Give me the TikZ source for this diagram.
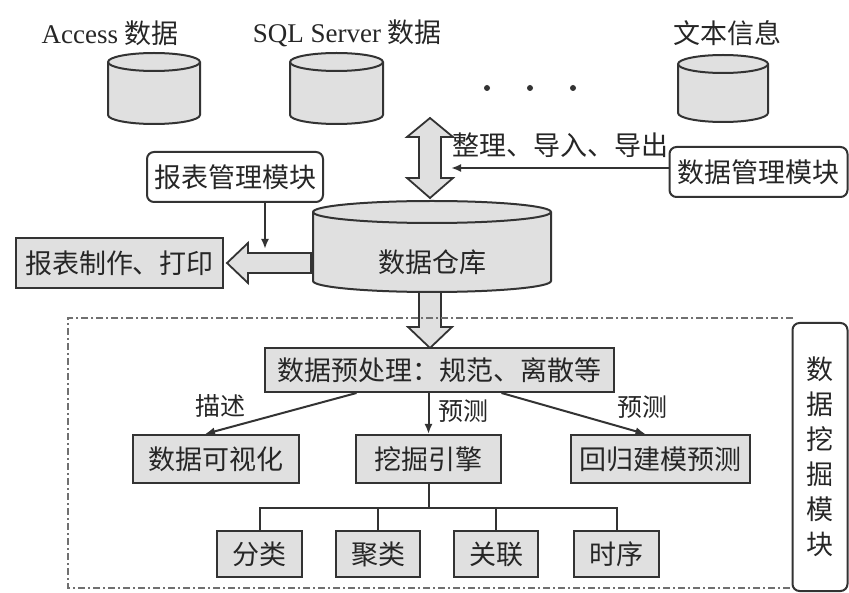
\documentclass[tikz,border=0pt]{standalone}
\usepackage{fontspec}
\setmainfont{Liberation Serif}
\newfontfamily\cjk{Noto Sans CJK SC}
\usetikzlibrary{arrows.meta}
\definecolor{boxfill}{HTML}{E0E0E0}
\definecolor{linec}{HTML}{333333}
\definecolor{txt}{HTML}{262626}
\definecolor{dashc}{HTML}{707070}
\newcommand\mycyl[5]{%
  \pgfmathsetmacro\cxr{(#2-#1)/2}%
  \filldraw[cyl] (#1,#3+#5) -- (#1,#4-#5) arc[start angle=180,end angle=0,x radius=\cxr,y radius=#5] -- (#2,#3+#5) arc[start angle=0,end angle=-180,x radius=\cxr,y radius=#5] -- cycle;
  \draw[cyl,fill=none] (#1,#3+#5) arc[start angle=180,end angle=0,x radius=\cxr,y radius=#5];}
\begin{document}
\begin{tikzpicture}[x=1pt,y=-1pt,
  every node/.style={text=txt, font=\cjk\fontsize{27}{31}\selectfont, inner sep=0pt},
  sqbox/.style={draw=linec, line width=2pt, fill=boxfill},
  rbox/.style={draw=linec, line width=2pt, fill=white, rounded corners=7pt},
  cyl/.style={draw=linec, line width=2pt, fill=boxfill},
  fat/.style={draw=linec, line width=1.8pt, fill=boxfill, line join=miter},
  conn/.style={draw=linec, line width=2pt, -{Latex[length=10pt,width=8pt]}},
  tree/.style={draw=linec, line width=2pt},
  lbl/.style={font=\cjk\fontsize{25}{29}\selectfont},
  dashbox/.style={draw=dashc, line width=1.5pt, dash pattern=on 7pt off 3pt on 2pt off 3pt},
]
\useasboundingbox (0,0) rectangle (849,593);

% top sources
\node (lacc) at (110,33) {{\rmfamily Access} 数据};
\node (lsql) at (347,33) {{\rmfamily SQL Server} 数据};
\node (ltxt) at (727,33) {文本信息};
\mycyl{108}{200}{53}{124}{9}
\mycyl{290}{383}{53}{124}{9}
\mycyl{678}{768}{55}{122}{9}
\fill[linec] (487,88) circle[radius=3] (530,88) circle[radius=3] (573,88) circle[radius=3];

% double arrow
\filldraw[fat] (430,118) -- (453,137) -- (441,137) -- (441,178) -- (453,178) -- (430,198) -- (407,178) -- (419,178) -- (419,137) -- (407,137) -- cycle;
\node[anchor=west] (lzl) at (452,145) {整理、导入、导出};

% data management module
\node[rbox, minimum width=178, minimum height=50] (dm) at (758.5,172) {数据管理模块};
\coordinate (dmEnd) at (451,168);
\draw[conn] (dm.west |- dmEnd) -- (dmEnd);

% report modules
\node[rbox, minimum width=176, minimum height=50] (bm) at (235,177) {报表管理模块};
\node[sqbox, minimum width=207, minimum height=50] (bp) at (119.5,263) {报表制作、打印};
\coordinate (bmEnd) at (265,249);
\draw[conn] (bm.south -| bmEnd) -- (bmEnd);

% warehouse
\mycyl{313}{551}{201}{292}{11}
\node (dw) at (432,262) {数据仓库};

% fat left arrow
\filldraw[fat] (227,263) -- (248,243) -- (248,253) -- (311,253) -- (311,273) -- (248,273) -- (248,283) -- cycle;
% fat down arrow
\filldraw[fat] (419,292) -- (441,292) -- (441,327) -- (452,327) -- (430,348) -- (408,327) -- (419,327) -- cycle;

% data mining region
\draw[dashbox] (793,318) -- (68,318) -- (68,588) -- (793,588);
\node[rbox, minimum width=55, minimum height=268, align=center, font=\cjk\fontsize{27}{35}\selectfont] (mm) at (820,457) {数\\据\\挖\\掘\\模\\块};

\node[sqbox, minimum width=349, minimum height=44] (pre) at (439.5,370) {数据预处理：规范、离散等};
\node[sqbox, minimum width=166, minimum height=48] (vis) at (216,459) {数据可视化};
\node[sqbox, minimum width=145, minimum height=48] (eng) at (428.5,459) {挖掘引擎};
\node[sqbox, minimum width=179, minimum height=48] (reg) at (660.5,459) {回归建模预测};

\draw[conn] ([xshift=-83pt]pre.south) -- ([xshift=-11pt]vis.north);
\draw[conn] (eng.north |- pre.south) -- (eng.north);
\draw[conn] ([xshift=62pt]pre.south) -- ([xshift=-15pt]reg.north);
\node[lbl] (ld) at (220,406) {描述};
\node[lbl] (lp1) at (463,411) {预测};
\node[lbl] (lp2) at (642,407) {预测};

\node[sqbox, minimum width=85, minimum height=46] (fl) at (259.5,554) {分类};
\node[sqbox, minimum width=84, minimum height=46] (jl) at (378,554) {聚类};
\node[sqbox, minimum width=84, minimum height=46] (gl) at (496,554) {关联};
\node[sqbox, minimum width=85, minimum height=46] (sx) at (616.5,554) {时序};
\coordinate (bus) at (428.5,508);
\draw[tree] (eng.south) -- (bus);
\draw[tree] (fl.north) -- (fl.north |- bus) -- (sx.north |- bus) -- (sx.north);
\draw[tree] (jl.north) -- (jl.north |- bus);
\draw[tree] (gl.north) -- (gl.north |- bus);
\end{tikzpicture}
\end{document}
